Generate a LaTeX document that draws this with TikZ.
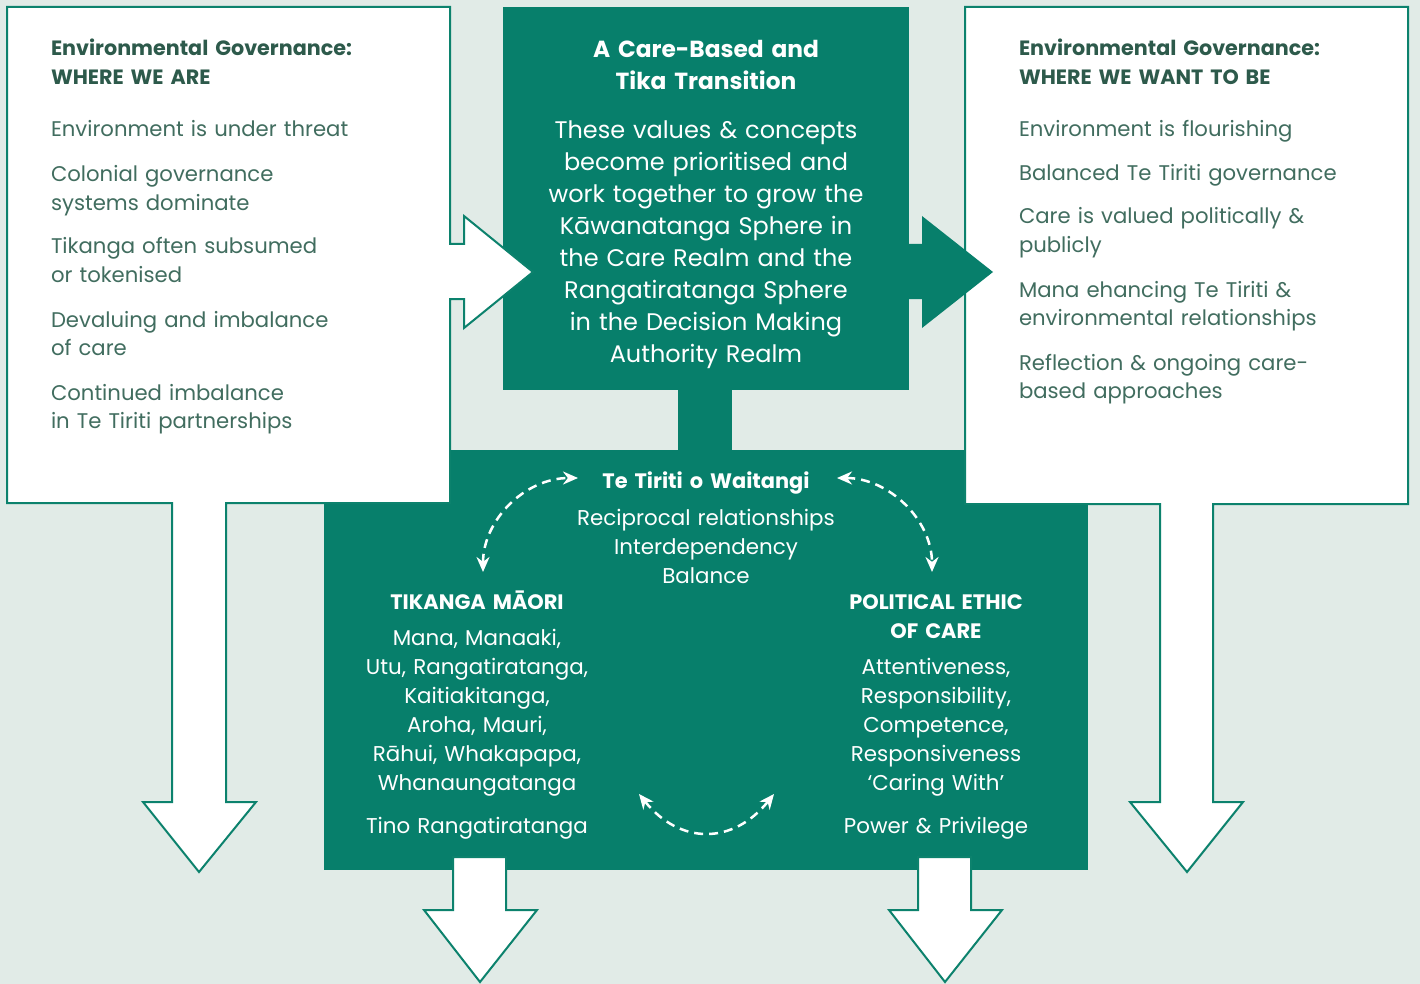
\documentclass[tikz,border=0pt]{standalone}
\usepackage{fontspec}
\setmainfont{Poppins}
\usetikzlibrary{arrows.meta}
\definecolor{bgc}{HTML}{E1EBE7}
\definecolor{tealc}{HTML}{077F6B}
\definecolor{edgec}{HTML}{0C826D}
\definecolor{txtc}{HTML}{416D5F}
\definecolor{hdc}{HTML}{2D5A4B}
\begin{document}
\begin{tikzpicture}[x=1pt,y=-1pt,
  every node/.style={inner sep=0pt, outer sep=0pt},
  bodyL/.style={font=\fontsize{21.2}{28.7}\selectfont, text=txtc, text width=380pt, align=left, anchor=base west},
  headL/.style={font=\fontsize{20.7}{29}\selectfont\bfseries, text=hdc, text width=380pt, align=left, anchor=base west},
  midhead/.style={font=\fontsize{23.3}{32}\selectfont\bfseries, text=white, text width=400pt, align=center, anchor=base},
  midbody/.style={font=\fontsize{24}{32}\selectfont, text=white, text width=400pt, align=center, anchor=base},
  lowhead/.style={font=\fontsize{20.9}{29}\selectfont\bfseries, text=white, text width=300pt, align=center, anchor=base},
  lowbody/.style={font=\fontsize{21.4}{29}\selectfont, text=white, text width=300pt, align=center, anchor=base},
  whiteshape/.style={fill=white, draw=edgec, line width=2pt, line join=miter},
  dasharrow/.style={draw=white, line width=2.5pt, dash pattern=on 9pt off 6pt, {Stealth[length=15pt,width=13pt]}-{Stealth[length=15pt,width=13pt]}}
]
\useasboundingbox (0,0) rectangle (1420,984);
\fill[bgc] (0,0) rectangle (1420,984);

% teal central panels
\fill[tealc] (324,450) rectangle (1088,870);
\fill[tealc] (678,385) rectangle (732,455);
\fill[tealc] (503,7) rectangle (909,390);

% left white panel with arrows
\draw[whiteshape] (7,7) -- (450,7) -- (450,244) -- (464,244) -- (464,216) -- (533,272)
  -- (464,328) -- (464,299) -- (450,299) -- (450,503) -- (226,503) -- (226,802)
  -- (256,802) -- (199,872) -- (143,802) -- (172,802) -- (172,503) -- (7,503) -- cycle;

% right white panel with arrow
\draw[whiteshape] (965,7) -- (1408,7) -- (1408,504) -- (1213,504) -- (1213,802)
  -- (1243,802) -- (1187,872) -- (1130,802) -- (1160,802) -- (1160,504) -- (965,504) -- cycle;

% teal arrow into right panel
\fill[tealc] (905,244) -- (922,244) -- (922,216) -- (993,272) -- (922,328) -- (922,299) -- (905,299) -- cycle;

% bottom arrows
\draw[whiteshape] (453,857) -- (506,857) -- (506,910) -- (537,910) -- (480,982) -- (424,910) -- (453,910) -- cycle;
\draw[whiteshape] (918,857) -- (971,857) -- (971,910) -- (1002,910) -- (945,982) -- (889,910) -- (918,910) -- cycle;

% left texts
\node[headL] (lh) at (51,56) {Environmental Governance:\\WHERE WE ARE};
\node[bodyL] (l1) at (51,137) {Environment is under threat};
\node[bodyL] (l2) at (51,182) {Colonial governance\\systems dominate};
\node[bodyL] (l3) at (51,254) {Tikanga often subsumed\\or tokenised};
\node[bodyL] (l4) at (51,327) {Devaluing and imbalance\\of care};
\node[bodyL] (l5) at (51,400) {Continued imbalance\\in Te Tiriti partnerships};

% right texts
\node[headL] (rh) at (1019,56) {Environmental Governance:\\WHERE WE WANT TO BE};
\node[bodyL] (r1) at (1019,137) {Environment is flourishing};
\node[bodyL] (r2) at (1019,181) {Balanced Te Tiriti governance};
\node[bodyL] (r3) at (1019,224) {Care is valued politically \&\\publicly};
\node[bodyL] (r4) at (1019,297) {Mana ehancing Te Tiriti \&\\environmental relationships};
\node[bodyL] (r5) at (1019,370) {Reflection \& ongoing care-\\based approaches};

% middle top
\node[midhead] (mh) at (706,58) {A Care-Based and\\Tika Transition};
\node[midbody] (mb) at (706,139) {These values \& concepts\\become prioritised and\\work together to grow the\\Kāwanatanga Sphere in\\the Care Realm and the\\Rangatiratanga Sphere\\in the Decision Making\\Authority Realm};

% lower teal
\node[lowhead] (tt) at (706,488) {Te Tiriti o Waitangi};
\node[lowbody] (tb) at (706,525) {Reciprocal relationships\\Interdependency\\Balance};
\node[lowhead] (tm) at (477,609) {TIKANGA MĀORI};
\node[lowbody] (tmb) at (477,645) {Mana, Manaaki,\\Utu, Rangatiratanga,\\Kaitiakitanga,\\Aroha, Mauri,\\Rāhui, Whakapapa,\\Whanaungatanga};
\node[lowbody] (tr) at (477,833) {Tino Rangatiratanga};
\node[lowhead] (pe) at (936,609) {POLITICAL ETHIC\\OF CARE};
\node[lowbody] (peb) at (936,674) {Attentiveness,\\Responsibility,\\Competence,\\Responsiveness\\‘Caring With’};
\node[lowbody] (pp) at (936,833) {Power \& Privilege};

% dashed arrows
\coordinate (a1s) at (483,572);
\coordinate (a1e) at (578,478);
\coordinate (a2s) at (837,478);
\coordinate (a2e) at (932,572);
\coordinate (a3s) at (639,794);
\coordinate (a3e) at (774,794);
\draw[dasharrow] (a1s) .. controls (483,520) and (525,478) .. (a1e);
\draw[dasharrow] (a2s) .. controls (889,478) and (932,520) .. (a2e);
\draw[dasharrow] (a3s) .. controls (680,845) and (733,845) .. (a3e);
\end{tikzpicture}
\end{document}
